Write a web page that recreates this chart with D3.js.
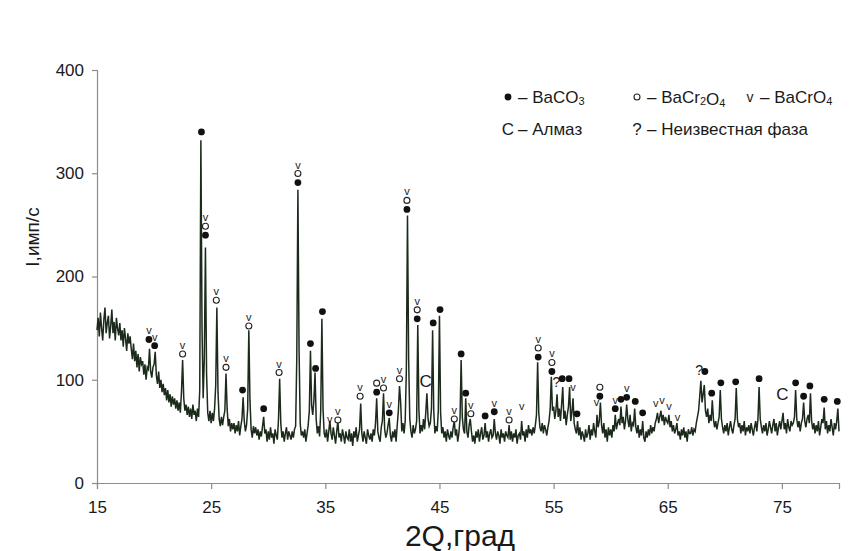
<!DOCTYPE html>
<html>
<head>
<meta charset="utf-8">
<script src="https://cdn.jsdelivr.net/npm/d3@7"></script>
<style>
  body { margin: 0; background: #fff; }
  svg text { font-family: "Liberation Sans", Arial, sans-serif; fill: #1a1a1a; }
</style>
</head>
<body>
<svg id="chart" width="858" height="551"></svg>
<script>
// Diffraction scan: 2θ from 15° in 0.1° steps, intensity in counts per second
const thetaStart = 15;
const thetaStep = 0.1;
const intensity = [
  148,160,142,165,150,138,158,170,145,155, // 15
  162,140,152,168,145,156,138,160,150,143, // 16
  155,138,148,132,150,140,128,145,135,142, // 17
  130,120,135,118,128,112,125,108,122,115, // 18
  118,105,115,100,112,110,130,108,102,112, // 19
  115,127,104,96,108,92,100,88,96,85,      // 20
  92,80,90,78,86,74,84,76,82,72,           // 21
  80,70,78,68,88,119,82,70,76,66,          // 22
  74,64,72,62,76,66,70,60,72,64,           // 23
  90,332,150,82,120,228,105,68,60,70,      // 24
  58,68,60,72,95,170,88,62,55,64,          // 25
  56,64,70,106,72,55,62,50,58,52,          // 26
  58,48,56,50,60,46,55,62,83,60,           // 27
  50,56,72,148,80,52,44,55,48,54,          // 28
  46,52,42,50,45,55,64,48,52,40,           // 29
  50,42,54,44,48,38,52,46,42,62,           // 30
  101,58,44,50,40,48,54,42,50,46,          // 31
  42,50,44,52,55,120,284,130,58,46,        // 32
  50,44,52,40,48,56,70,128,75,66,          // 33
  80,107,62,48,55,45,70,159,72,48,         // 34
  44,52,40,50,60,48,42,54,46,38,           // 35
  50,60,44,48,40,52,46,38,50,44,           // 36
  42,52,40,48,36,50,44,54,40,46,           // 37
  52,77,48,40,50,44,38,52,46,42,           // 38
  48,40,52,46,58,82,50,44,40,54,           // 39
  60,87,52,44,48,56,63,46,40,50,           // 40
  44,52,40,56,70,94,78,50,58,48,           // 41
  60,110,259,120,62,50,44,56,48,52,        // 42
  60,153,70,48,56,50,62,52,68,87,          // 43
  62,55,58,72,148,70,48,55,50,70,          // 44
  162,68,48,54,44,50,40,52,46,42,          // 45
  50,44,54,60,46,52,40,48,62,119,          // 46
  64,52,48,82,50,44,56,62,50,40,           // 47
  46,38,50,44,52,40,48,54,42,46,           // 48
  58,44,50,40,48,52,44,46,62,48,           // 49
  42,50,46,38,52,44,48,40,50,46,           // 50
  44,56,42,50,40,48,44,52,38,46,           // 51
  48,42,60,46,50,40,52,44,56,48,           // 52
  52,46,54,48,56,66,117,68,54,50,          // 53
  58,48,56,52,46,54,60,72,103,70,          // 54
  74,62,70,86,64,72,60,76,93,62,           // 55
  70,56,66,74,93,60,68,82,58,52,           // 56
  48,60,46,54,42,50,46,40,52,44,           // 57
  48,56,42,52,46,58,50,44,66,54,           // 58
  60,78,56,48,58,44,52,40,54,46,           // 59
  52,44,56,50,66,52,58,62,56,74,           // 60
  58,64,52,60,76,62,54,66,50,58,           // 61
  56,72,54,48,56,44,52,46,60,44,           // 62
  40,50,44,52,46,56,48,54,50,58,           // 63
  62,68,58,64,70,60,66,56,64,60,           // 64
  58,66,54,60,50,56,48,52,58,46,           // 65
  50,42,52,46,54,44,50,40,52,48,           // 66
  48,54,46,52,50,58,64,70,84,99,           // 67
  78,86,95,70,64,72,58,66,60,80,           // 68
  62,54,60,52,58,64,90,62,54,48,           // 69
  56,50,58,46,54,60,52,48,56,62,           // 70
  92,62,54,58,48,56,50,60,46,54,           // 71
  50,56,48,58,52,46,54,60,50,62,           // 72
  93,62,54,48,56,50,58,46,52,60,           // 73
  54,48,56,62,50,58,46,54,60,52,           // 74
  60,68,52,58,48,62,54,50,60,56,           // 75
  58,64,90,62,54,60,50,58,62,78,           // 76
  60,54,62,66,58,87,60,52,58,48,           // 77
  56,50,60,46,54,62,58,73,52,60,           // 78
  48,56,50,62,54,46,58,52,60,72,           // 79
  50                                       // 80
];

const xTicks = [15, 25, 35, 45, 55, 65, 75];
const yTicks = [0, 100, 200, 300, 400];
const xTitle = "2Q,град";
const yTitle = "I,имп/с";

// Phase identification marks: position (2θ), level of the lowest symbol, symbols from bottom to top
const markTheta = [19.55, 20.05, 22.5, 24.15, 24.5, 25.45, 26.3, 27.75, 28.3, 29.6,
  30.95, 32.6, 33.7, 34.15, 34.75, 35.4, 36.1, 38.05, 39.5, 40.1,
  40.6, 41.5, 42.15, 43.05, 43.8, 44.45, 45.05, 46.3, 46.9, 47.3,
  47.75, 49.0, 49.8, 51.1, 52.2, 53.65, 54.85, 55.25, 55.75, 56.35,
  56.7, 57.05, 58.75, 59.05, 60.4, 60.9, 61.4, 62.15, 62.8, 63.95,
  64.5, 65.1, 65.85, 67.75, 68.25, 68.85, 69.65, 70.95, 73.0, 75.05,
  76.2, 76.9, 77.45, 78.7, 79.85];
const markLevel = [139, 133, 125, 340, 240, 177, 112, 90, 152, 72,
  107, 291, 135, 111, 166, 62, 61, 84, 88, 92,
  68, 101, 265, 159, 98, 155, 168, 62, 125, 87,
  67, 65, 69, 61, 75, 122, 108, 98, 101, 101,
  93, 67, 78, 84, 72, 81, 83, 79, 68, 77,
  80, 75, 64, 109, 108, 87, 97, 98, 101, 86,
  97, 84, 94, 81, 79];
const markSymbols = ["●v", "●v", "ov", "●", "●ov", "ov", "ov", "●", "ov", "●",
  "ov", "●ov", "●", "●", "●", "v", "ov", "ov", "●o", "ov",
  "●v", "ov", "●ov", "●ov", "C", "●", "●", "ov", "●", "●",
  "ov", "●", "●v", "ov", "v", "●ov", "●ov", "?", "●", "●",
  "v", "●", "v", "●o", "●v", "●", "●v", "●", "●", "v",
  "v", "v", "v", "?", "●", "●", "●", "●", "●", "C",
  "●", "●", "●", "●", "●"];

// Legend entries; "_n" marks a subscript digit
const legendSymbols = ["●", "o", "v", "C", "?"];
const legendLabels = ["– BaCO_3", "– BaCr_2O_4", "– BaCrO_4", "– Алмаз", "– Неизвестная фаза"];

const svg = d3.select("#chart");
const margin = { left: 97, right: 19, top: 70, bottom: 68 };
const W = 858, H = 551;

const x = d3.scaleLinear().domain([15, 80]).range([margin.left, W - margin.right]);
const y = d3.scaleLinear().domain([0, 400]).range([H - margin.bottom, margin.top]);

const axisColor = "#8c8c8c";

// Axes
const gx = svg.append("g")
  .attr("transform", `translate(0,${y(0)})`)
  .call(d3.axisBottom(x).tickValues(xTicks).tickSize(6).tickPadding(12).tickFormat(d3.format("d")));
const gy = svg.append("g")
  .attr("transform", `translate(${x(15)},0)`)
  .call(d3.axisLeft(y).tickValues(yTicks).tickSize(5).tickPadding(8).tickFormat(d3.format("d")));
[gx, gy].forEach(g => {
  g.select(".domain").attr("stroke", axisColor).attr("stroke-width", 1.2);
  g.selectAll(".tick line").attr("stroke", axisColor).attr("stroke-width", 1.2);
  g.selectAll(".tick text").attr("font-size", 17).attr("fill", "#1a1a1a")
    .attr("font-family", "'Liberation Sans', Arial, sans-serif");
});

// Scan trace
const points = intensity.map((v, i) => [thetaStart + i * thetaStep, v]);
const line = d3.line().x(d => x(d[0])).y(d => y(d[1]));
svg.append("path")
  .datum(points)
  .attr("d", line)
  .attr("fill", "none")
  .attr("stroke", "#1b2a1b")
  .attr("stroke-width", 1.5)
  .attr("stroke-linejoin", "miter");

// Draws one phase symbol centred at (cx, cy)
function drawSymbol(g, s, cx, cy, textSize, vSize) {
  if (s === "●") {
    g.append("circle").attr("cx", cx).attr("cy", cy).attr("r", 3.4).attr("fill", "#111");
  } else if (s === "o") {
    g.append("circle").attr("cx", cx).attr("cy", cy).attr("r", 3).attr("fill", "#fff")
      .attr("stroke", "#222").attr("stroke-width", 1.1);
  } else {
    const size = s === "v" ? vSize : textSize;
    g.append("text").attr("x", cx).attr("y", cy).attr("text-anchor", "middle")
      .attr("dominant-baseline", "central").attr("font-size", size).text(s);
  }
}

// Peak marks
const marks = svg.append("g");
markTheta.forEach((t, i) => {
  const cx = x(t), cy0 = y(markLevel[i]);
  Array.from(markSymbols[i]).forEach((s, j) => {
    drawSymbol(marks, s, cx, cy0 - j * 9, s === "C" ? 17 : 14, 11);
  });
});

// Axis titles
svg.append("text")
  .attr("x", 460).attr("y", 546)
  .attr("text-anchor", "middle")
  .attr("font-size", 30)
  .text(xTitle);
svg.append("text")
  .attr("transform", `translate(39,237) rotate(-90)`)
  .attr("text-anchor", "middle")
  .attr("font-size", 19)
  .text(yTitle);

// Legend
const legendX = [508, 637, 750, 508, 637];
const legendY = [97, 97, 97, 129, 129];
const legend = svg.append("g");
legendSymbols.forEach((s, i) => {
  drawSymbol(legend, s, legendX[i], legendY[i], 17, 14);
  const t = legend.append("text")
    .attr("x", legendX[i] + 10).attr("y", legendY[i] + 6)
    .attr("font-size", 17);
  legendLabels[i].split(/(_\d)/).forEach(part => {
    if (!part) return;
    if (part[0] === "_") {
      t.append("tspan").attr("font-size", 11).attr("dy", 2).text(part.slice(1));
      t.append("tspan").attr("dy", -2).text("");
    } else {
      t.append("tspan").text(part);
    }
  });
});
</script>
</body>
</html>
